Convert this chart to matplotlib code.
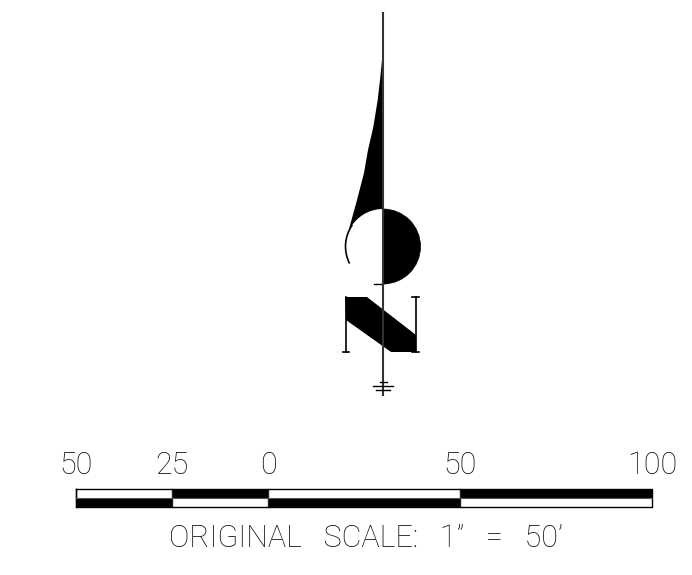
import numpy as np
import matplotlib
matplotlib.use("Agg")
import matplotlib.pyplot as plt
from matplotlib.patches import Arc, Wedge

# scale bar
scale_values = [-50, -25, 0, 50, 100]
scale_labels = ["50", "25", "0", "50", "100"]
top_row_black = [False, True, False, True]
bottom_row_black = [True, False, True, False]
caption = "ORIGINAL   SCALE:   1\u201d   =   50\u2019"

# north arrow outline (pixels)
blade_x = [383, 382.3, 380, 377.7, 373.3, 368, 364, 357, 349]
blade_y = [50, 57, 80, 100, 127, 150, 173, 200, 229]
n_x = [345, 367, 416, 416, 391, 346]
n_y = [297, 297, 335, 352, 352, 320]

fig = plt.figure(figsize=(6.92, 5.75), dpi=100)
ax = fig.add_axes([0, 0, 1, 1])
ax.set_xlim(0, 692)
ax.set_ylim(575, 0)
ax.axis("off")

cx, cy, r = 383, 246.5, 37.5

# blade: outer curve down to the circle, then back up along the circle
a = np.radians(np.linspace(212, 270, 40))
arc_x = cx + r * np.cos(a)
arc_y = cy + r * np.sin(a)
ax.fill(list(blade_x) + list(arc_x), list(blade_y) + list(arc_y), "k", lw=0.5)

# right half of the circle, thin left arc
ax.add_patch(Wedge((cx, cy), r, -90, 90, fc="k", ec="k", lw=0.5))
ax.add_patch(Arc((cx, cy), 2 * r, 2 * r, theta1=153, theta2=215, color="k", lw=1.2))
ax.plot([374, 383], [284, 284], "k", lw=1)

# needle and the ticks at its foot
ax.plot([383, 383], [12, 396], color="#333333", lw=1.5, solid_capstyle="butt")
ax.plot([380, 387], [382, 382], "k", lw=1)
ax.plot([373, 393], [386, 386], "k", lw=1)
ax.plot([376, 390], [390, 390], "k", lw=1)

# N
ax.fill(n_x, n_y, "k", lw=0.5)
ax.plot([346, 346], [297, 352], "k", lw=1.2)
ax.plot([416, 416], [297, 352], "k", lw=1.2)
ax.plot([343, 349], [352, 352], "k", lw=1.2)
ax.plot([412, 419], [297, 297], "k", lw=1.2)
ax.plot([412, 419], [352, 352], "k", lw=1.2)

# scale bar, 3.84 px per unit with 0 at x=268
to_x = lambda v: 268 + 3.84 * v
top, mid, bottom = 489, 497.5, 506.5
for i in range(len(scale_values) - 1):
    x0, x1 = to_x(scale_values[i]), to_x(scale_values[i + 1])
    ax.fill_between([x0, x1], top, mid, color="k" if top_row_black[i] else "w", lw=0)
    ax.fill_between([x0, x1], mid, bottom, color="k" if bottom_row_black[i] else "w", lw=0)
    ax.plot([x0, x0], [top, bottom], color="#222222", lw=1)
ax.plot([to_x(-50), to_x(100), to_x(100), to_x(-50), to_x(-50)],
        [top, top, bottom, bottom, top], "k", lw=1)
ax.plot([to_x(-50), to_x(100)], [mid, mid], color="#555555", lw=0.8)

for v, s in zip(scale_values, scale_labels):
    ax.text(to_x(v), 474, s, ha="center", va="baseline", fontsize=22,
            family="Roboto", fontweight="light", color="#111111")
ax.text(366, 547, caption, ha="center", va="baseline", fontsize=22,
        family="Roboto", fontweight="light", color="#111111")

fig.savefig("out.png", dpi=100)
